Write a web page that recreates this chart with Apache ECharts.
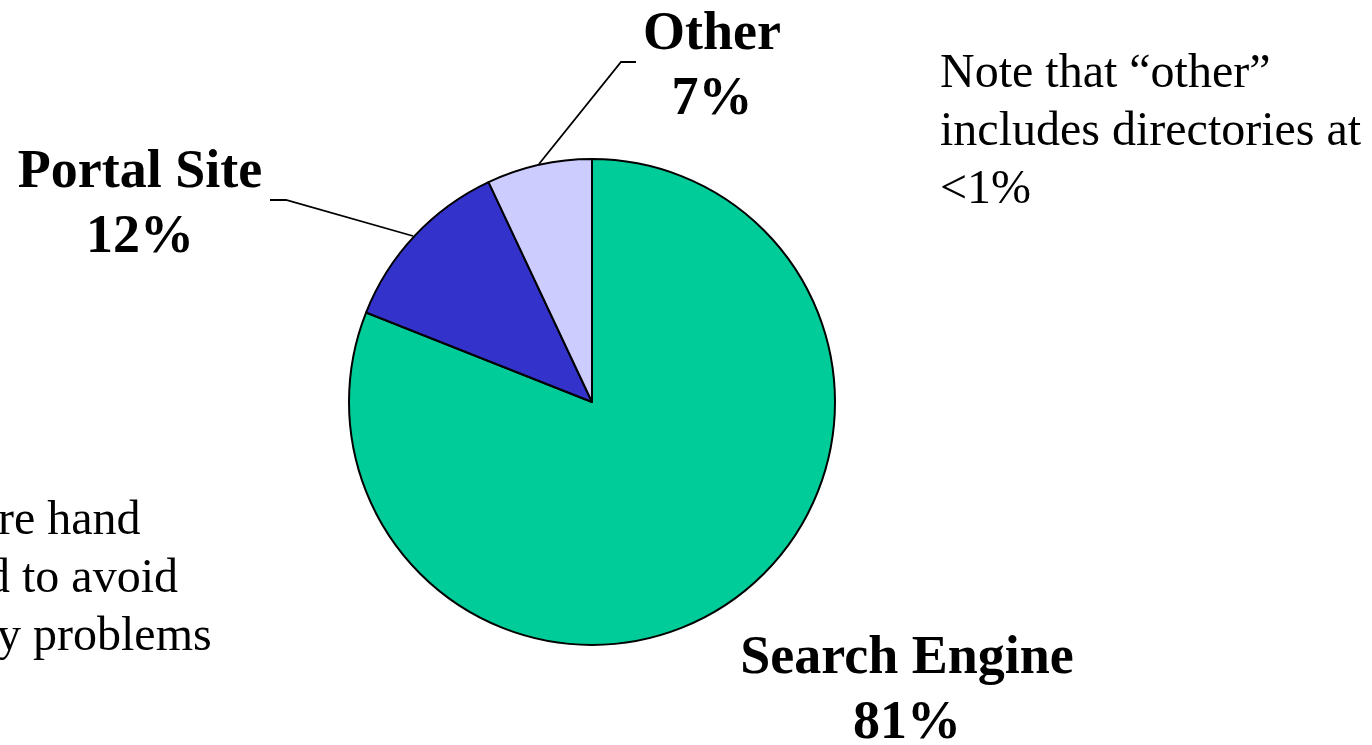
<!DOCTYPE html>
<html>
<head>
<meta charset="utf-8">
<script src="https://cdn.jsdelivr.net/npm/echarts@6/dist/echarts.min.js"></script>
<style>
  html, body { margin: 0; padding: 0; background: #fff; }
  #chart { width: 1372px; height: 745px; }
</style>
</head>
<body>
<div id="chart"></div>
<script>
// Share of referrals by source type
const categories = ['Search Engine', 'Portal Site', 'Other'];
const shares = [81, 12, 7];
const sliceColors = ['#00CC99', '#3333CC', '#CCCCFF'];

const noteLines = ['Note that \u201cother\u201d', 'includes directories at', '<1%'];
const sideLines = ['re hand', 'd to avoid', 'y problems'];

const serif = '"Liberation Serif", "Times New Roman", serif';

// Hand-placed label anchors and leader lines (pixel layout)
const labelSpots = [
  { x: 907, y: 692, line: null },
  { x: 140, y: 206, line: [[413, 236], [286, 200], [270, 200]] },
  { x: 712, y: 68, line: [[539, 164], [621, 62], [636, 62]] }
];

const chart = echarts.init(document.getElementById('chart'), null, { renderer: 'canvas' });

const sideX = [-2, -14, -3];
const graphics = [
  {
    type: 'text', left: 940, top: 45,
    style: {
      text: noteLines.join('\n'), font: '48px ' + serif,
      lineHeight: 58, fill: '#000', align: 'left', verticalAlign: 'top'
    }
  }
].concat(sideLines.map((t, i) => ({
  type: 'text', x: sideX[i], y: 521 + i * 58,
  style: { text: t, font: '48px ' + serif, fill: '#000', align: 'left', verticalAlign: 'middle' }
})));

chart.setOption({
  animation: false,
  backgroundColor: '#fff',
  graphic: graphics,
  series: [{
    type: 'pie',
    center: [592, 402],
    radius: [0, 243],
    startAngle: 90,
    clockwise: true,
    avoidLabelOverlap: false,
    silent: true,
    data: categories.map((c, i) => ({
      name: c, value: shares[i],
      itemStyle: { color: sliceColors[i] },
      labelLine: { show: i !== 0 }
    })),
    itemStyle: { borderColor: '#000', borderWidth: 2 },
    label: {
      show: true,
      position: 'outside',
      formatter: p => p.name + '\n' + p.value + '%',
      fontFamily: serif,
      fontWeight: 'bold',
      fontSize: 54,
      lineHeight: 65,
      color: '#000',
      align: 'center'
    },
    labelLine: { show: true, lineStyle: { color: '#000', width: 1.8 } },
    labelLayout: function (params) {
      const s = labelSpots[params.dataIndex];
      const out = { x: s.x, y: s.y, align: 'center', verticalAlign: 'middle' };
      if (s.line) out.labelLinePoints = s.line;
      return out;
    }
  }]
});
</script>
</body>
</html>
